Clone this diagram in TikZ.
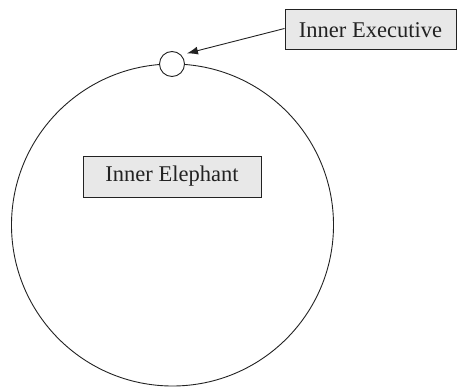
\documentclass[tikz,border=0pt]{standalone}
\usepackage{fontspec}
\setmainfont{Liberation Serif}
\usetikzlibrary{arrows.meta}
\definecolor{boxfill}{HTML}{E8E8E8}
\definecolor{inkc}{HTML}{222222}
\tikzset{
  labelbox/.style={draw=inkc, line width=1pt, fill=boxfill, inner sep=0pt, font=\fontsize{22.5}{26}\selectfont, text=inkc},
  ring/.style={draw=inkc, line width=0.9pt, circle, inner sep=0pt}
}
\begin{document}
\begin{tikzpicture}[x=1pt,y=1pt]
\useasboundingbox (0,0) rectangle (457,386);
\node[ring, minimum size=322pt] (big) at (172.5,161) {};
\node[ring, fill=white, minimum size=25pt] (small) at (172,322) {};
\node[labelbox, minimum width=171pt, minimum height=40pt] (exec) at (370.5,356) {Inner Executive};
\node[labelbox, minimum width=178pt, minimum height=41pt] (eleph) at (172,209.5) {Inner Elephant};
\draw[inkc, line width=0.9pt, shorten >=6pt, -{Latex[length=11pt,width=8pt]}] (exec.west) ++(0,1.5) coordinate (s) -- (small.north east);
\end{tikzpicture}
\end{document}
